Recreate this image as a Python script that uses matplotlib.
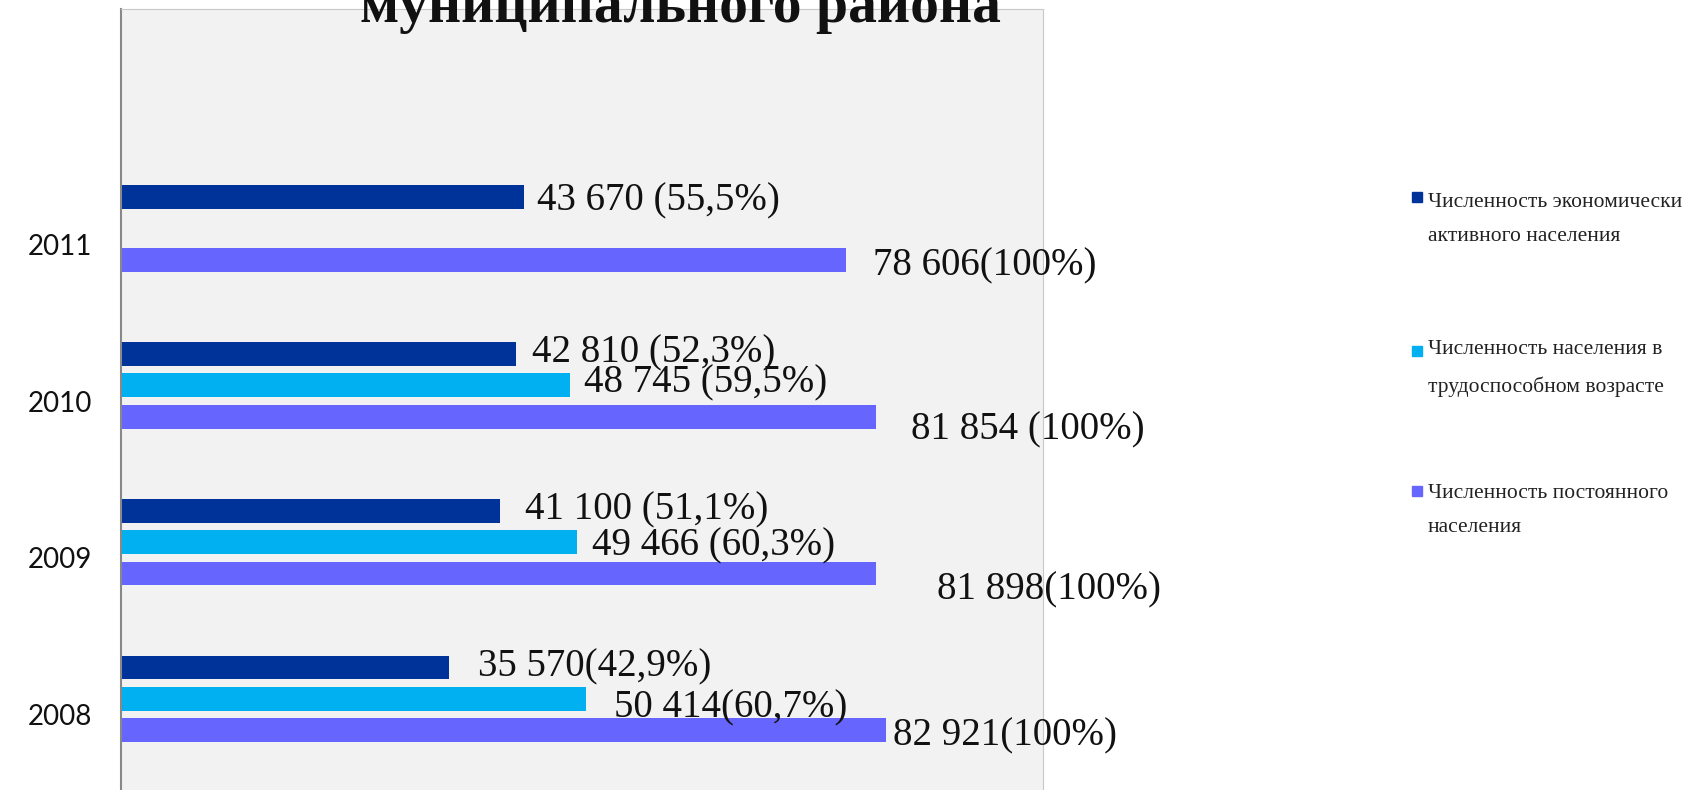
import matplotlib.pyplot as plt
import numpy as np
from matplotlib.patches import Rectangle

# Data
years = ["2008", "2009", "2010", "2011"]
active = [35570, 41100, 42810, 43670]
working = [50414, 49466, 48745, np.nan]
total = [82921, 81898, 81854, 78606]

active_labels = ["35 570(42,9%)", "41 100 (51,1%)", "42 810 (52,3%)", "43 670 (55,5%)"]
working_labels = ["50 414(60,7%)", "49 466 (60,3%)", "48 745 (59,5%)", ""]
total_labels = ["82 921(100%)", "81 898(100%)", "81 854 (100%)", "78 606(100%)"]

series_names = [
    "Численность экономически\nактивного населения",
    "Численность населения в\nтрудоспособном возрасте",
    "Численность постоянного\nнаселения",
]
colors = ["#003399", "#00B0F0", "#6666FF"]

# label offsets from bar end (pixels), labels were hand placed in the original
active_off = [(29, 1), (25, 1), (16, 1), (13, -4)]
working_off = [(28, -9), (15, -4), (14, 2), (0, 0)]
total_off = [(7, -6), (61, -16), (35, -13), (27, -6)]

fig = plt.figure(figsize=(16.92, 7.9), dpi=100)
ax = fig.add_axes([121 / 1692, -3 / 790, 922 / 1692, 784 / 790])
ax.set_facecolor("#F2F2F2")

y = np.arange(len(years))
h = 0.151
ax.barh(y + 0.3, active, height=h, color=colors[0])
ax.barh(y + 0.1, working, height=h, color=colors[1])
ax.barh(y - 0.1, total, height=h, color=colors[2])

lab_font = dict(family="Liberation Serif", fontsize=28, color="#111111", va="center", ha="left")
for vals, labs, offs, dy in [(active, active_labels, active_off, 0.3),
                             (working, working_labels, working_off, 0.1),
                             (total, total_labels, total_off, -0.1)]:
    for i in range(len(years)):
        if labs[i]:
            ax.annotate(labs[i], (vals[i], y[i] + dy), xytext=offs[i],
                        textcoords="offset pixels", **lab_font)

ax.set_xlim(0, 100000)
ax.set_ylim(-0.5, 4.5)
ax.set_xticks([])
ax.set_yticks(y)
ax.set_yticklabels(years, family="Lato", fontsize=20, color="#111111")
ax.tick_params(axis="y", length=0, pad=21)
for s in ["top", "right", "bottom"]:
    ax.spines[s].set_color("#C8C8C8")
ax.spines["left"].set_color("#888888")
ax.spines["left"].set_linewidth(1.5)

# Title (top line cut off in the original)
fig.text(680 / 1692, 1 - 22 / 790, "муниципального района", ha="center", va="baseline",
         family="Liberation Serif", fontweight="bold", fontsize=41.5, color="#111111")

# Legend (baseline of the second line of each entry)
sq_y = [197, 351, 491]
base_y = [241, 392, 532]
for name, c, sy, by in zip(series_names, colors, sq_y, base_y):
    fig.add_artist(Rectangle((1412 / 1692, 1 - (sy + 5) / 790), 10 / 1692, 10 / 790,
                             transform=fig.transFigure, color=c))
    fig.text(1428 / 1692, 1 - by / 790, name, ha="left", va="baseline",
             family="Liberation Serif", fontsize=15.5, color="#222222", linespacing=2.1)

plt.savefig("out.png", dpi=100)
